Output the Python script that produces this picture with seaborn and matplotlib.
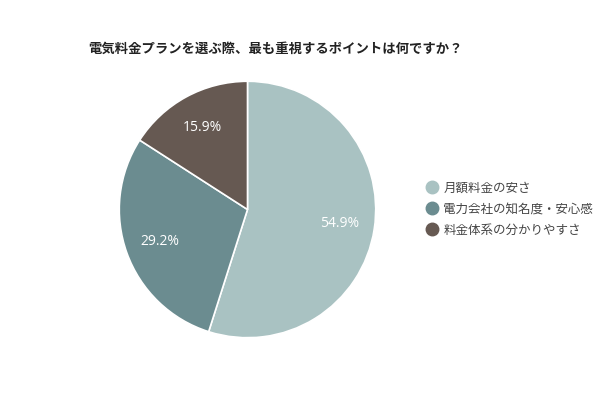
import matplotlib
matplotlib.use("Agg")
import matplotlib.pyplot as plt
from matplotlib.lines import Line2D
import seaborn as sns

# Survey data
labels = ["月額料金の安さ", "電力会社の知名度・安心感", "料金体系の分かりやすさ"]
shares = [54.9, 29.2, 15.9]
colors = ["#a9c2c2", "#6b8c90", "#665952"]
title = "電気料金プランを選ぶ際、最も重視するポイントは何ですか？"

sns.set_theme(style="white")
plt.rcParams["font.family"] = ["Noto Sans CJK JP", "DejaVu Sans"]

fig = plt.figure(figsize=(6, 4), dpi=100)
ax = fig.add_axes([118 / 600, 61 / 400, 259 / 600, 259 / 400])

wedges, texts, autotexts = ax.pie(
    shares,
    colors=colors,
    startangle=90,
    counterclock=False,
    autopct="%.1f%%",
    pctdistance=0.73,
    wedgeprops={"edgecolor": "white", "linewidth": 1.2},
    textprops={"color": "white", "fontsize": 10, "family": ["Open Sans", "DejaVu Sans"]},
    radius=1.0,
)
ax.set_xlim(-1.01, 1.01)
ax.set_ylim(-1.01, 1.01)
ax.set_aspect("equal")
ax.axis("off")

fig.text(88 / 600, 1 - 49 / 400, title, fontsize=9.6, fontweight="bold",
         color="#222222", va="center", ha="left")

handles = [
    Line2D([0], [0], marker="o", linestyle="", markersize=9,
           markerfacecolor=c, markeredgecolor=c)
    for c in colors
]
fig.legend(
    handles, labels,
    loc="center left",
    bbox_to_anchor=(424 / 600, 1 - 209 / 400),
    frameon=False,
    fontsize=9.0,
    labelcolor="#444444",
    handletextpad=0.35,
    handlelength=1.2,
    labelspacing=0.65,
    borderaxespad=0,
    borderpad=0,
)

fig.savefig("out.png", dpi=100, facecolor="white")
